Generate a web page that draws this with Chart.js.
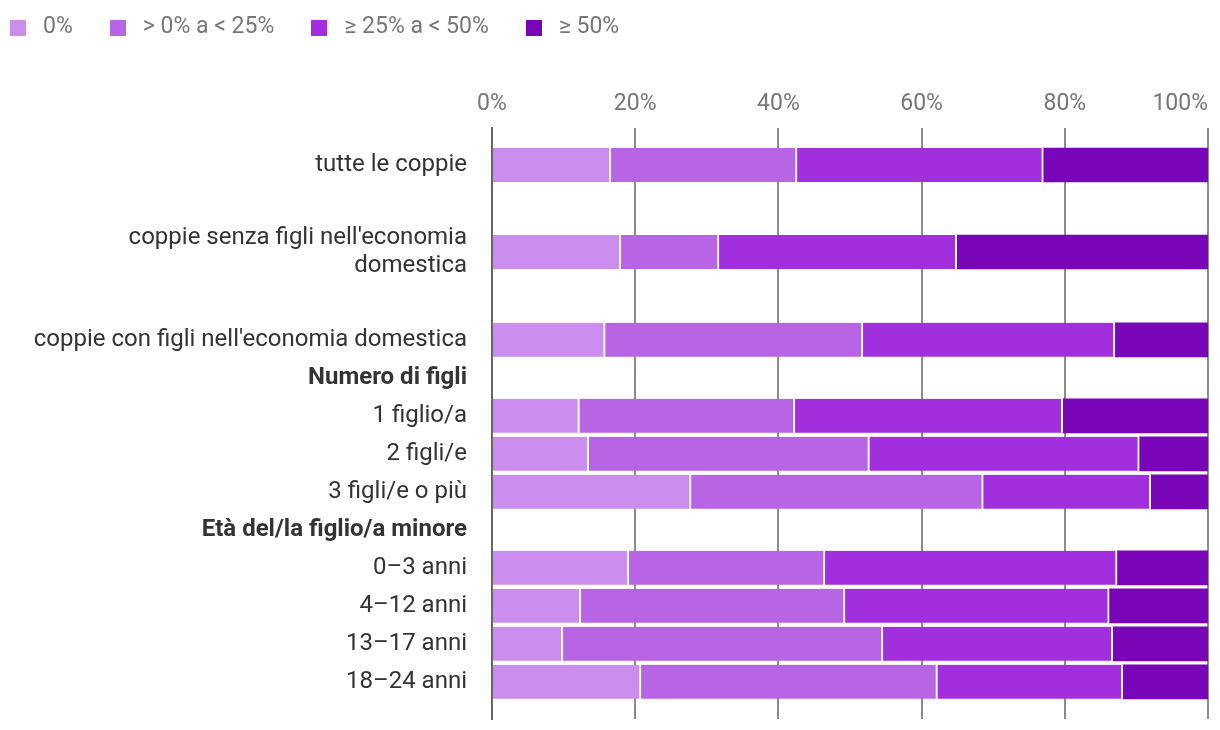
<!DOCTYPE html>
<html>
<head>
<meta charset="utf-8">
<script src="https://cdn.jsdelivr.net/npm/chart.js@4.4.0/dist/chart.umd.min.js"></script>
<style>
  body { margin: 0; background: #fff; font-family: Roboto, sans-serif; }
  #wrap { position: relative; width: 1220px; height: 730px; }
  #legend { position: absolute; left: 10px; top: 20px; display: flex; font-size: 23px; line-height: 16px; color: #777; z-index: 2; }
  #legend .item { display: flex; align-items: center; margin-right: 37px; }
  #legend .box { width: 16px; height: 16px; margin-right: 17px; }
  #legend span { position: relative; top: -2px; }
  canvas { position: absolute; left: 0; top: 0; }
</style>
</head>
<body>
<div id="wrap">
  <div id="legend"></div>
  <canvas id="myChart" width="1220" height="730"></canvas>
</div>
<script>
const categories = [
  'tutte le coppie',
  ["coppie senza figli nell'economia", 'domestica'],
  "coppie con figli nell'economia domestica",
  'Numero di figli',
  '1 figlio/a',
  '2 figli/e',
  '3 figli/e o più',
  'Età del/la figlio/a minore',
  '0–3 anni',
  '4–12 anni',
  '13–17 anni',
  '18–24 anni'
];
const headers = [3, 7];

const seriesNames = ['0%', '> 0% a < 25%', '≥ 25% a < 50%', '≥ 50%'];
const zero = [16.6, 18.0, 15.8, null, 12.2, 13.5, 27.8, null, 19.1, 12.4, 9.9, 20.8];
const low  = [26.0, 13.7, 36.0, null, 30.1, 39.2, 40.8, null, 27.4, 36.9, 44.7, 41.4];
const mid  = [34.4, 33.2, 35.2, null, 37.4, 37.7, 23.4, null, 40.8, 36.9, 32.1, 25.9];
const high = [23.0, 35.1, 13.0, null, 20.3, 9.6, 8.0, null, 12.7, 13.8, 13.3, 11.9];

// row layout (in row units, gaps around the first three groups)
const rowPos = [0, 2.29, 4.6, 5.6, 6.6, 7.6, 8.6, 9.6, 10.6, 11.6, 12.6, 13.6];
const colors = ['#cc8eee', '#b764e5', '#a22fdd', '#7805b8'];

const legendEl = document.getElementById('legend');
seriesNames.forEach((n, i) => {
  legendEl.innerHTML += '<div class="item"><div class="box" style="background:' + colors[i] + '"></div><span>' + n + '</span></div>';
});

function toPoints(arr) {
  return arr.map((v, i) => ({ x: v, y: rowPos[i] })).filter(p => p.x !== null);
}

// top axis labels, last one right-aligned like the original
const topLabels = {
  id: 'topLabels',
  afterDraw(chart) {
    const sx = chart.scales.x;
    const c = chart.ctx;
    c.save();
    c.font = '23px Roboto';
    c.fillStyle = '#777';
    c.textBaseline = 'middle';
    sx.ticks.forEach((t, i) => {
      const px = sx.getPixelForValue(t.value);
      c.textAlign = i === sx.ticks.length - 1 ? 'right' : 'center';
      c.fillText(t.value + '%', px, 104);
    });
    c.restore();
  }
};

const ctx = document.getElementById('myChart').getContext('2d');
const myChart = new Chart(ctx, {
  type: 'bar',
  data: {
    datasets: [zero, low, mid, high].map((arr, i) => ({
      label: seriesNames[i],
      data: toPoints(arr),
      backgroundColor: colors[i],
      borderColor: '#fff',
      borderWidth: { left: 0, top: 0, bottom: 0, right: i < 3 ? 2 : 0 },
      borderSkipped: false,
      barThickness: 34
    }))
  },
  options: {
    indexAxis: 'y',
    responsive: false,
    animation: false,
    events: [],
    layout: { padding: { top: 128, right: 12, bottom: 11, left: 0 } },
    plugins: { legend: { display: false }, tooltip: { enabled: false } },
    scales: {
      x: {
        type: 'linear',
        position: 'top',
        stacked: true,
        min: 0,
        max: 100,
        ticks: { stepSize: 20, display: false },
        afterFit: (s) => { s.height = 0; s.paddingLeft = 0; s.paddingRight = 0; },
        grid: { color: '#8c8c8c', lineWidth: 2, drawTicks: false },
        border: { display: false }
      },
      y: {
        type: 'linear',
        stacked: true,
        reverse: true,
        offset: false,
        min: -0.9737,
        max: 14.579,
        afterBuildTicks: (s) => { s.ticks = rowPos.map(v => ({ value: v })); },
        afterFit: (s) => { s.width = 492; s.paddingTop = 0; s.paddingBottom = 0; },
        ticks: {
          padding: 25,
          color: '#333',
          autoSkip: false,
          callback: (v, i) => categories[i],
          font: (c) => ({
            family: 'Roboto',
            size: 24,
            lineHeight: '28px',
            weight: headers.includes(c.index) ? 'bold' : 'normal'
          })
        },
        grid: { display: false, drawTicks: false },
        border: { display: true, color: '#666', width: 2 }
      }
    }
  },
  plugins: [topLabels]
});
</script>
</body>
</html>
